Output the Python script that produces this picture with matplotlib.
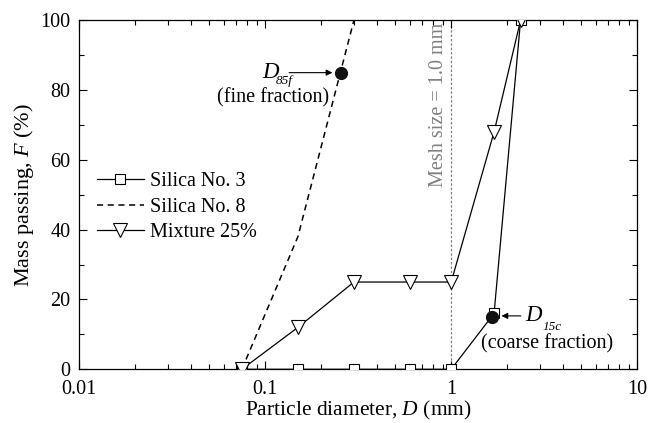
import matplotlib
matplotlib.use('Agg')
import matplotlib.pyplot as plt
from matplotlib.ticker import MultipleLocator, NullFormatter

plt.rcParams['font.family'] = ['Liberation Serif', 'DejaVu Serif']
plt.rcParams['mathtext.fontset'] = 'custom'
plt.rcParams['mathtext.it'] = 'Liberation Serif:italic'
plt.rcParams['mathtext.rm'] = 'Liberation Serif'

# sieve sizes (mm) and percent passing
d_s3 = [0.075, 0.15, 0.3, 0.6, 1.0, 1.7, 2.36]
f_s3 = [0, 0, 0, 0, 0, 16, 100]
d_s8 = [0.075, 0.15, 0.3]
f_s8 = [0, 38, 100]
d_mix = [0.075, 0.15, 0.3, 0.6, 1.0, 1.7, 2.36]
f_mix = [0, 12, 25, 25, 25, 68, 100]

d85f = (0.256, 85)
d15c = (1.66, 15)
mesh = 1.0

fn_tick = 14.5
fn_lab = 15.5
fn_txt = 14.5
fn_sub = 9.5

fig, ax = plt.subplots(figsize=(6.59, 4.23), dpi=100)
fig.subplots_adjust(left=0.12, right=0.967, top=0.952, bottom=0.127)

ax.axvline(mesh, color='grey', ls=(0, (2, 1.5)), lw=0.9, zorder=1)
ax.text(0.965, 99.3, 'Mesh size = 1.0 mm', rotation=90, color='grey',
        ha='right', va='top', fontsize=fn_txt)

ax.plot(d_s3, f_s3, color='k', lw=0.9, marker='s', ms=7, mfc='white',
        mec='k', mew=0.8, label='Silica No. 3', zorder=3)
ax.plot(d_s8, f_s8, color='k', lw=1.1, ls=(0, (4, 3)), label='Silica No. 8', zorder=2)
ax.plot(d_mix, f_mix, color='k', lw=0.9, marker='v', ms=10, mfc='white',
        mec='k', mew=0.8, label='Mixture 25%', zorder=4)

ax.plot(*d85f, 'o', color='#111111', ms=8.5, zorder=5)
ax.plot(*d15c, 'o', color='#111111', ms=8.5, zorder=5)

# D85f callout
ax.annotate('', xy=(0.238, 85), xytext=(0.13, 85),
            arrowprops=dict(arrowstyle='-|>', color='k', lw=0.8, mutation_scale=9))
ax.text(0.096, 85.0, 'D', style='italic', ha='left', va='center', fontsize=fn_txt + 2)
ax.text(0.1145, 82.6, '85f', style='italic', ha='left', va='center', fontsize=fn_sub)
ax.text(0.22, 77.8, '(fine fraction)', ha='right', va='center', fontsize=fn_txt)

# D15c callout
ax.annotate('', xy=(1.8, 15.3), xytext=(2.45, 15.3),
            arrowprops=dict(arrowstyle='-|>', color='k', lw=0.8, mutation_scale=9))
ax.text(2.5, 15.3, 'D', style='italic', ha='left', va='center', fontsize=fn_txt + 2)
ax.text(3.1, 12.0, '15c', style='italic', ha='left', va='center', fontsize=fn_sub)
ax.text(3.28, 7.2, '(coarse fraction)', ha='center', va='center', fontsize=fn_txt)

ax.set_xscale('log')
ax.set_xlim(0.01, 10)
ax.set_ylim(0, 100)
ax.set_xticks([0.01, 0.1, 1, 10])
ax.set_xticklabels(['0.01', '0.1', '1', '10'])
ax.xaxis.set_minor_formatter(NullFormatter())
ax.yaxis.set_major_locator(MultipleLocator(20))
ax.yaxis.set_minor_locator(MultipleLocator(10))
ax.tick_params(which='both', direction='in', top=True, right=True, labelsize=fn_tick)
ax.tick_params(which='major', length=6, width=0.8)
ax.tick_params(axis='x', which='major', pad=8)
ax.tick_params(axis='y', which='major', pad=6)
ax.tick_params(which='minor', length=3.5, width=0.8)
for s in ax.spines.values():
    s.set_linewidth(0.9)

ax.set_xlabel(r'Particle diameter, $D$ (mm)', fontsize=fn_lab, labelpad=-0.5)
ax.set_ylabel(r'Mass passing, $F$ (%)', fontsize=fn_lab + 0.5, labelpad=3)

ax.legend(loc='center left', bbox_to_anchor=(0.0, 0.465), frameon=False,
          fontsize=fn_txt, handlelength=2.3, handletextpad=0.3, labelspacing=0.3,
          borderaxespad=0.5)

fig.savefig('out.png', dpi=100)
